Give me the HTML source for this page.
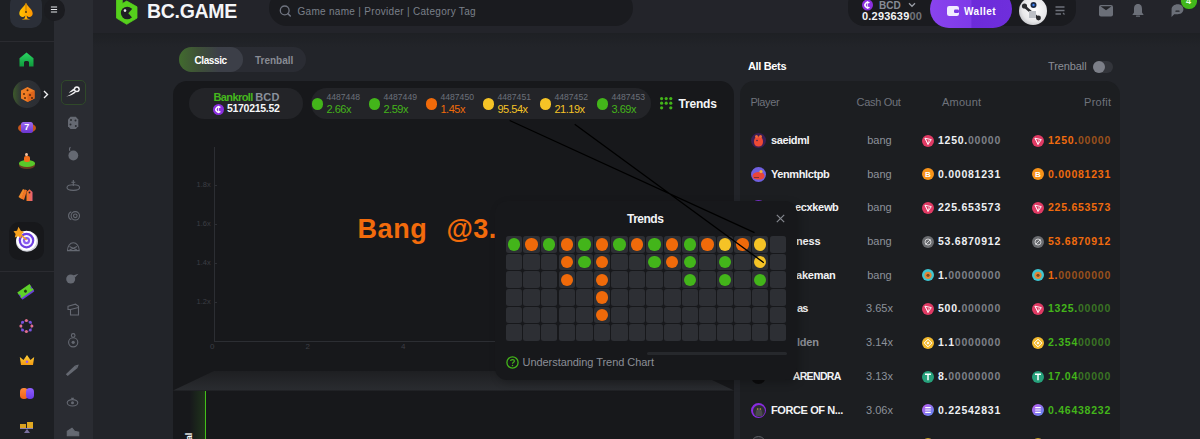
<!DOCTYPE html>
<html><head><meta charset="utf-8">
<style>
*{box-sizing:border-box;margin:0;padding:0}
html,body{width:1200px;height:439px;overflow:hidden;background:#222429;font-family:"Liberation Sans",sans-serif;color:#fff}
.a{position:absolute;white-space:nowrap}
.b{font-weight:bold}
#sb1{left:0;top:0;width:54px;height:439px;background:#1d1f23}
#sb2{left:54px;top:0;width:39px;height:439px;background:#2a2c32}
#hdr{left:93px;top:0;width:1107px;height:33px;background:#23242a}
#hdrline{left:93px;top:33px;width:1107px;height:14px;background:linear-gradient(180deg,#1e2024 0%,rgba(34,36,41,0) 100%)}
svg.a{overflow:visible}
.cell{position:absolute;width:16.5px;height:16.5px;border-radius:2.5px;background:#2d2f34}
.dot{position:absolute;width:12.4px;height:12.4px;border-radius:50%;left:2.05px;top:2.05px}
.G{background:#43b51a}.O{background:#f06a0a}.Y{background:#f5c326}
.row{position:absolute;left:740px;width:380px;height:33px}
.nm{position:absolute;left:31px;top:11px;font-size:11px;font-weight:bold;line-height:11px;letter-spacing:-0.4px;color:#f2f3f5}
.co{position:absolute;left:112px;width:55px;text-align:center;top:11px;font-size:11px;line-height:11px;color:#8d929b}
.am{position:absolute;left:198px;top:11px;font-size:10.5px;line-height:11px;font-weight:bold;letter-spacing:0.75px;color:#eef0f3}
.pf{position:absolute;left:308px;top:11px;font-size:10.5px;line-height:11px;font-weight:bold;letter-spacing:0.75px}
.dim{color:#7e8188}
.coin{position:absolute;width:12px;height:12px;border-radius:50%;top:9px}
</style></head><body>
<div id="sb1" class="a"></div>
<div id="sb2" class="a"></div>
<div id="hdr" class="a"></div>
<div id="hdrline" class="a"></div>

<!-- sidebar 1 top -->
<div class="a" style="left:10px;top:-6px;width:32.2px;height:33.7px;border-radius:10px;background:#2b2f38"></div>
<svg class="a" style="left:18px;top:2px" width="16" height="19" viewBox="0 0 16 19">
 <defs><linearGradient id="sp" x1="0" x2="1"><stop offset="0" stop-color="#ffc400"/><stop offset="1" stop-color="#ff9500"/></linearGradient></defs>
 <path d="M8 0.8 C6.5 4.5 1.3 7.5 1.3 11.5 C1.3 14.2 3.6 15.4 5.4 14.9 C6.3 14.6 7 14.1 7.4 13.5 L6.6 16.6 L3.6 17.6 L12.4 17.6 L9.4 16.6 L8.6 13.5 C9 14.1 9.7 14.6 10.6 14.9 C12.4 15.4 14.7 14.2 14.7 11.5 C14.7 7.5 9.5 4.5 8 0.8 Z" fill="url(#sp)"/>
 <path d="M8 1.5 V9" stroke="#b06d00" stroke-width="0.9"/><circle cx="8" cy="10" r="0.9" fill="#3b2c10"/>
</svg>
<div class="a" style="left:43.5px;top:-0.7px;width:21.2px;height:21.2px;border-radius:50%;background:#1b1c20"></div>
<svg class="a" style="left:50px;top:6px" width="8" height="7" viewBox="0 0 8 7"><path d="M0.9 1 H7.1 M0.9 3.5 H7.1 M0.9 6 H7.1" stroke="#e6e7ea" stroke-width="1.2"/></svg>
<div class="a" style="left:0;top:41px;width:54px;height:1px;background:#2a2b30"></div>
<div class="a" style="left:0;top:271px;width:54px;height:1px;background:#2a2b30"></div>

<!-- home -->
<svg class="a" style="left:19px;top:52px" width="15" height="15" viewBox="0 0 15 15">
 <defs><linearGradient id="hm" x1="0" y1="0" x2="0" y2="1"><stop offset="0" stop-color="#2bd463"/><stop offset="1" stop-color="#0f9a3c"/></linearGradient></defs>
 <path d="M7.5 0.5 L14.5 6.2 L14.5 14.5 L10 14.5 L10 10.2 C10 8.7 5 8.7 5 10.2 L5 14.5 L0.5 14.5 L0.5 6.2 Z" fill="url(#hm)"/>
</svg>
<!-- dice circle -->
<div class="a" style="left:12.5px;top:79.8px;width:28.5px;height:28.5px;border-radius:50%;background:linear-gradient(90deg,#3d5a2a 0%,#2e3236 30%,#2b2d33 100%)"></div>
<svg class="a" style="left:18.5px;top:86px" width="17" height="17" viewBox="0 0 17 17">
 <path d="M2 4.5 L8.5 1 L15.5 4.5 L15.5 12.5 L8.5 16 L2 12.5 Z" fill="#f07d24"/>
 <path d="M8.5 8 L15.5 4.5 L15.5 12.5 L8.5 16 Z" fill="#e0641a"/>
 <circle cx="5" cy="8" r="1" fill="#5a2a0a"/><circle cx="6" cy="12" r="1" fill="#5a2a0a"/><circle cx="11" cy="9" r="1" fill="#5a2a0a"/><circle cx="13" cy="12" r="1" fill="#5a2a0a"/><circle cx="8.5" cy="4.3" r="1" fill="#5a2a0a"/>
</svg>
<svg class="a" style="left:43px;top:90px" width="6" height="9" viewBox="0 0 6 9"><path d="M1 1 L4.5 4.5 L1 8" fill="none" stroke="#f0f0f2" stroke-width="1.4"/></svg>
<!-- slot 7 -->
<div class="a" style="left:18px;top:122.5px;width:18.2px;height:10px;border-radius:50%;background:#c4561c"></div>
<div class="a" style="left:21.4px;top:121.8px;width:11.4px;height:11px;border-radius:2.5px;background:linear-gradient(180deg,#9d6cf0,#6b34d0)"></div>
<div class="a b" style="left:24.3px;top:123px;font-size:9px;line-height:9px;color:#fff">7</div>
<!-- figure -->
<div class="a" style="left:18.7px;top:161px;width:16px;height:7.5px;border-radius:50%;background:#6b3a20"></div>
<div class="a" style="left:18.7px;top:160px;width:16px;height:6.5px;border-radius:50%;background:#58c72a"></div>
<div class="a" style="left:23.5px;top:156px;width:6px;height:6px;border-radius:2px;background:#f26d1a"></div>
<div class="a" style="left:25px;top:152.5px;width:3px;height:3.5px;border-radius:50%;background:#f0c0a0"></div>
<!-- tags -->
<svg class="a" style="left:18px;top:188px" width="17" height="14" viewBox="0 0 17 14">
 <defs><linearGradient id="tgs" x1="0" x2="1"><stop offset="0" stop-color="#f07a1a"/><stop offset="1" stop-color="#e9607a"/></linearGradient></defs>
 <path d="M0.5 9 L5 1 L7 2 L3.5 11 Z" fill="#f08a2a"/>
 <path d="M3 10.5 L7 1.5 L9 2.2 L6 12 Z" fill="#f07424"/>
 <path d="M8.5 4 L11.5 1.2 L14.5 4 L14.5 13 L8.5 13 Z" fill="url(#tgs)"/>
 <circle cx="11.5" cy="4.5" r="0.9" fill="#1d1e22"/>
</svg>
<!-- target -->
<div class="a" style="left:8.7px;top:221.8px;width:35.7px;height:37.9px;border-radius:10px;background:#17181b"></div>
<svg class="a" style="left:13px;top:226px" width="28" height="28" viewBox="0 0 28 28">
 <ellipse cx="14" cy="15.4" rx="11" ry="10.3" fill="#cfd0d8"/>
 <ellipse cx="13.5" cy="14.6" rx="10.2" ry="9.8" fill="#ffffff"/>
 <circle cx="13.5" cy="14.6" r="7.8" fill="#6c3ee0"/>
 <circle cx="13.5" cy="14.6" r="5.6" fill="#f4f0ff"/>
 <circle cx="13.5" cy="14.6" r="3.6" fill="#8a5cf0"/>
 <circle cx="13.5" cy="14.6" r="1.4" fill="#fff"/>
 <path d="M7 8 L13.5 14" stroke="#f59a1a" stroke-width="1.5"/>
 <path d="M5.5 0.7 L7.8 4.8 L11 6 L8 8.8 L8.3 12.3 L5.2 10.2 L1.8 11.5 L2.6 8 L0.5 5.2 L4 4.8 Z" fill="#f7a21e"/>
</svg>
<!-- ticket -->
<svg class="a" style="left:16px;top:282px" width="20" height="20" viewBox="0 0 20 20">
 <g transform="rotate(-35 10 10)">
  <rect x="2.5" y="7.3" width="15" height="7" rx="1" fill="#6a3fd8"/>
  <path d="M2.5 5.5 H17.5 V8.2 A1.3 1.3 0 0 0 17.5 10.8 V12.5 H2.5 V10.8 A1.3 1.3 0 0 0 2.5 8.2 Z" fill="#5ed12a"/>
  <circle cx="10" cy="9" r="1.5" fill="#1f3d12"/>
 </g>
</svg>
<!-- ring of dots -->
<svg class="a" style="left:18px;top:318px" width="17" height="17" viewBox="0 0 17 17">
 <circle cx="8.4" cy="8.1" r="5.5" fill="none" stroke="#5b3aa8" stroke-width="0.8"/>
 <circle cx="8.4" cy="2.6" r="1.5" fill="#e3708c"/><circle cx="12.3" cy="4.2" r="1.5" fill="#7a52e0"/>
 <circle cx="13.9" cy="8.1" r="1.5" fill="#e3708c"/><circle cx="12.3" cy="12" r="1.5" fill="#7a52e0"/>
 <circle cx="8.4" cy="13.6" r="1.5" fill="#e3708c"/><circle cx="4.5" cy="12" r="1.5" fill="#7a52e0"/>
 <circle cx="2.9" cy="8.1" r="1.5" fill="#e3708c"/><circle cx="4.5" cy="4.2" r="1.5" fill="#7a52e0"/>
</svg>
<!-- crown -->
<svg class="a" style="left:19px;top:354px" width="16" height="12" viewBox="0 0 16 12">
 <defs><linearGradient id="cr" x1="0" y1="0" x2="0" y2="1"><stop offset="0" stop-color="#ffd23a"/><stop offset="1" stop-color="#f39a12"/></linearGradient></defs>
 <path d="M0.8 3 L4.5 6 L8 1 L11.5 6 L15.2 3 L14 11 L2 11 Z" fill="url(#cr)"/>
 <circle cx="8" cy="7.8" r="1.3" fill="#9b5cf0"/>
</svg>
<!-- faces -->
<div class="a" style="left:20px;top:387.8px;width:7.5px;height:11.2px;border-radius:3.8px;background:linear-gradient(180deg,#ff8a3a,#f0601a)"></div>
<div class="a" style="left:26.3px;top:387.8px;width:7.3px;height:11.2px;border-radius:3.8px;background:linear-gradient(180deg,#9060ff,#6b3ae8)"></div>
<!-- gold bars -->
<div class="a" style="left:20px;top:423.8px;width:5.8px;height:4px;background:#d9a020"></div>
<div class="a" style="left:27px;top:422.4px;width:5.8px;height:5.4px;background:#e0a822"></div>
<div class="a" style="left:20px;top:428px;width:13px;height:1px;background:#8a80b0"></div>
<svg class="a" style="left:23.5px;top:429px" width="6" height="4" viewBox="0 0 6 4"><path d="M3 0 L6 4 L0 4 Z" fill="#7a70a0"/></svg>

<!-- sidebar 2 icons -->
<div class="a" style="left:61px;top:79.6px;width:25.4px;height:25px;border-radius:5px;border:1px solid #30492a;background:#27292e"></div>
<svg class="a" style="left:65px;top:84px" width="17" height="16" viewBox="0 0 17 16">
 <circle cx="11.8" cy="5.2" r="3" fill="#f2f2f4"/>
 <circle cx="11.8" cy="5.2" r="1.5" fill="#26282d"/>
 <path d="M9.6 7.4 C7 9.5 3.5 11.5 1.2 12.6 C4.5 12.3 8 11 10.8 8.6 Z" fill="#f2f2f4"/>
 <path d="M9 4.6 C6.8 6 5 7.5 3.8 9 C6 8 8 7 9.3 6.4 Z" fill="#f2f2f4"/>
</svg>
<g></g>
<svg class="a" style="left:62px;top:112px" width="22" height="330" viewBox="62 112 22 330">
 <g fill="#656972">
  <path d="M70.5 116.8 L75.8 116.8 L78.3 119.5 L78.3 126.2 L75.8 128.9 L70.5 128.9 L68 126.2 L68 119.5 Z"/>
  <circle cx="73.3" cy="155.5" r="4.9"/>
  <circle cx="70.7" cy="279" r="4.5"/>
  <path d="M73 275.5 L78.5 273.7 L75 277.5 Z"/>
  <path d="M67.7 376 L65.8 374.2 L75 365.5 L77.5 368 Z"/>
  <path d="M75 365.5 L78.8 364.6 L77.5 368 Z"/>
 </g>
 <g fill="#2a2c31">
  <circle cx="71" cy="120" r="1"/><circle cx="75.5" cy="120.5" r="1"/><circle cx="70.5" cy="124.5" r="1"/><circle cx="75.8" cy="126" r="1"/>
 </g>
 <g fill="none" stroke="#656972" stroke-width="1.1">
  <path d="M70 150.8 C69 149.5 69.5 148 70.5 147.3"/>
  <ellipse cx="73.3" cy="187.6" rx="6.3" ry="2.8"/>
  <path d="M73.3 180 V186 M71.3 182.3 H75.3"/>
  <path d="M71.3 211.8 A4.3 4.3 0 0 0 71.3 219.8"/>
  <circle cx="75.3" cy="215.8" r="4.2"/><circle cx="75.3" cy="215.8" r="1.8"/>
  <path d="M67.5 250.6 C67.5 246 70 242.8 73.3 242.8 C76.6 242.8 79.2 246 79.2 250.6 Z"/>
  <path d="M69.5 246.5 L77 250 M77 246.5 L69.5 250"/>
  <path d="M68 306.3 L75.5 304.2 L78.5 306.3 L78.5 315 L70.5 315 L70.5 309.5 L68 309.5 Z"/>
  <path d="M70.5 309.5 L78.5 307.5"/>
  <circle cx="73.2" cy="342.3" r="4.6"/>
  <circle cx="73.2" cy="335.4" r="1.8"/>
  <ellipse cx="72.5" cy="402.8" rx="5.3" ry="3.2"/><path d="M72.5 399.6 V397.8 M71 398.2 L74 398.2"/>
  <path d="M67.3 435.8 L67.3 431.3 L72 428.2 L74.6 431.3 L78.7 432.3 L78.7 435.8 Z" fill="#656972"/>
 </g>
 <g fill="#656972">
  <circle cx="73.2" cy="342.3" r="1.6"/>
  <circle cx="72.5" cy="402.8" r="1.5"/>
 </g>
</svg>
<!-- HEADER -->
<svg class="a" style="left:0;top:0" width="1" height="1"></svg>
<svg class="a" style="left:116px;top:0" width="22" height="25" viewBox="116 0 22 25">
  <path d="M116.5 -1 L122.3 -1 L122.3 3.6 L126.7 1 L137 6.8 L137 18.1 L126.7 24.3 L116.5 18.1 Z" fill="#55d11c" stroke="#55d11c" stroke-width="0.8" stroke-linejoin="round"/>
  <circle cx="127.2" cy="13" r="6.3" fill="#1f2024"/><path d="M128.3 13.2 L134.5 6.2 L134.5 20.2 Z" fill="#55d11c"/>
  <circle cx="125" cy="10.6" r="1.3" fill="#e8e8e8"/>
</svg>
<div class="a b" style="left:147px;top:1.8px;font-size:19.5px;line-height:19.5px;letter-spacing:-0.3px;color:#f4f5f7">BC.GAME</div>

<div class="a" style="left:268.5px;top:-10px;width:364px;height:36px;border-radius:18px;background:#1a1b1f"></div>
<svg class="a" style="left:278px;top:4px" width="16" height="16" viewBox="0 0 16 16">
  <circle cx="6.7" cy="6.4" r="4.4" fill="none" stroke="#6f7480" stroke-width="1.3"/>
  <path d="M9.9 9.6 L12.3 12" stroke="#6f7480" stroke-width="1.5" stroke-linecap="round"/>
</svg>
<div class="a" style="left:297.5px;top:7.2px;font-size:10px;line-height:10px;letter-spacing:0.3px;color:#7b808a">Game name | Provider | Category Tag</div>

<!-- right header group -->
<div class="a" style="left:848px;top:-12px;width:228px;height:38px;border-radius:16px;background:#1a1b1f"></div>
<svg class="a" style="left:861.5px;top:-1.5px" width="11" height="12" viewBox="0 0 11 12"><circle cx="5.5" cy="6" r="5.5" fill="#8b2fe0"/><path d="M7.4 3.9 A2.7 2.7 0 1 0 7.4 8.1" fill="none" stroke="#fff" stroke-width="1.5"/><path d="M5.4 2 V10" stroke="#fff" stroke-width="0.8"/></svg>
<div class="a b" style="left:879px;top:1px;font-size:10px;line-height:10px;color:#878c96">BCD</div>
<svg class="a" style="left:908px;top:2px" width="8" height="6" viewBox="0 0 8 6"><path d="M1 1.3 L4 4.3 L7 1.3" fill="none" stroke="#9a9ea6" stroke-width="1.3"/></svg>
<div class="a b" style="left:862px;top:11px;font-size:11px;line-height:11px;letter-spacing:0.2px;color:#f3f4f6">0.293639<span style="color:#70737a">00</span></div>
<div class="a" style="left:930px;top:-10px;width:82px;height:37.5px;border-radius:19px;background:linear-gradient(90deg,#8a43ee 0%,#7e3ae8 50%,#6c2bd9 51%,#6f2edc 100%)"></div>
<svg class="a" style="left:946px;top:5px" width="14" height="12" viewBox="0 0 14 12">
  <rect x="1" y="1" width="12" height="10" rx="2.2" fill="#f1ecff"/>
  <rect x="8" y="4.5" width="5" height="3.5" rx="1.2" fill="#7c39e6"/>
</svg>
<div class="a b" style="left:964px;top:6.5px;font-size:10px;line-height:10px;letter-spacing:0.5px;color:#fff">Wallet</div>
<div class="a" style="left:1019px;top:-3px;width:28px;height:28px;border-radius:50%;background:radial-gradient(circle at 55% 45%,#ffffff 0%,#e8e8ea 55%,#9da0a6 100%)"></div>
<svg class="a" style="left:1019px;top:-3px" width="28" height="28" viewBox="0 0 28 28">
  <circle cx="14.5" cy="8" r="3" fill="#1d2a44"/><circle cx="14.5" cy="8" r="1.2" fill="#3b82f6"/>
  <path d="M5 9 L19 21" stroke="#2a2b2e" stroke-width="2.6"/>
  <circle cx="5.5" cy="9" r="2.6" fill="#2a2b2e"/><circle cx="19.5" cy="21" r="2.4" fill="#2a2b2e"/>
  <rect x="10" y="14" width="7" height="7" fill="#bcbfc5"/>
</svg>
<svg class="a" style="left:1054px;top:5px" width="12" height="12" viewBox="0 0 12 12">
  <path d="M1.5 2 H10.5 M1.5 5.5 H10.5 M1.5 9 H7" stroke="#6e727b" stroke-width="1.4"/>
  <path d="M9 8 L10.5 9.5" stroke="#6e727b" stroke-width="1.2"/>
</svg>
<svg class="a" style="left:1098px;top:4px" width="16" height="14" viewBox="0 0 16 14">
  <rect x="1" y="1" width="14" height="11.5" rx="2" fill="#6b6f78"/>
  <path d="M2.5 2.2 L8 6.2 L13.5 2.2" fill="#212226"/>
</svg>
<svg class="a" style="left:1131px;top:3px" width="14" height="15" viewBox="0 0 14 15">
  <path d="M7 1 C3.8 1 3 3.6 3 6 L3 9.5 L1.3 12 L12.7 12 L11 9.5 L11 6 C11 3.6 10.2 1 7 1 Z" fill="#6b6f78"/>
  <path d="M5.5 13.2 H8.5" stroke="#6b6f78" stroke-width="1.2" stroke-linecap="round"/>
</svg>
<svg class="a" style="left:1170px;top:3px" width="15" height="15" viewBox="0 0 15 15">
  <path d="M7.8 1.2 C11.2 1.2 13.4 3.4 13.4 6.3 C13.4 9.3 11.2 11.2 7.8 11.2 L4.2 11.2 L1.5 13.9 L1.6 6.3 C1.6 3.4 4.2 1.2 7.8 1.2 Z" fill="#6b6f78"/>
  <path d="M6 8.2 H9" stroke="#212226" stroke-width="1.3" stroke-linecap="round"/>
</svg>
<div class="a" style="left:1181px;top:-7px;width:15.5px;height:15.5px;border-radius:50%;background:#42b71b"></div>
<div class="a b" style="left:1186px;top:-3px;font-size:9px;line-height:9px;color:#e8ffe0">4</div>

<!-- main tabs -->
<div class="a" style="left:179px;top:47px;width:127px;height:25px;border-radius:13px;background:#2a2c33"></div>
<div class="a" style="left:179px;top:47px;width:64px;height:25px;border-radius:13px;background:linear-gradient(90deg,#416b2e 0%,#3e5137 30%,#3c3f48 62%)"></div>
<div class="a b" style="left:194.5px;top:55.5px;font-size:10px;line-height:10px;letter-spacing:-0.4px;color:#fff">Classic</div>
<div class="a b" style="left:255px;top:55.5px;font-size:10px;line-height:10px;letter-spacing:0px;color:#888b94">Trenball</div>

<!-- main panel -->
<div class="a" style="left:173px;top:81px;width:561px;height:370px;border-radius:14px;background:#17181b"></div>


<!-- bankroll pill -->
<div class="a" style="left:189px;top:88px;width:114px;height:31px;border-radius:15.5px;background:#232428"></div>
<div class="a b" style="left:213.5px;top:91.5px;font-size:11px;line-height:11px;letter-spacing:-0.6px;color:#45b81d">Bankroll <span style="color:#8a919c;letter-spacing:0.2px">BCD</span></div>
<div class="a" style="left:213px;top:103.7px;width:11px;height:11px;border-radius:50%;background:#8b2fe0"></div>
<svg class="a" style="left:213px;top:103.7px" width="11" height="11" viewBox="0 0 11 11"><path d="M7.3 3.6 A2.6 2.6 0 1 0 7.3 7.4" fill="none" stroke="#fff" stroke-width="1.5"/><path d="M5.5 1.8 V9.2" stroke="#fff" stroke-width="0.8"/></svg>
<div class="a b" style="left:227px;top:103px;font-size:10.5px;line-height:11px;letter-spacing:-0.3px;color:#f6f7f9">5170215.52</div>

<!-- trends pill -->
<div class="a" style="left:310.5px;top:88px;width:340px;height:31px;border-radius:15.5px;background:#232428"></div>
<div class="a" style="left:311.6px;top:97.9px;width:11.8px;height:11.8px;border-radius:50%;background:#43b51a"></div>
<div class="a" style="left:326.5px;top:93px;font-size:8.6px;line-height:9px;letter-spacing:0px;color:#6c717b">4487448</div>
<div class="a" style="left:326.5px;top:103.5px;font-size:11px;line-height:11px;letter-spacing:-0.5px;color:#43b51a">2.66x</div>
<div class="a" style="left:368.6px;top:97.9px;width:11.8px;height:11.8px;border-radius:50%;background:#43b51a"></div>
<div class="a" style="left:383.5px;top:93px;font-size:8.6px;line-height:9px;letter-spacing:0px;color:#6c717b">4487449</div>
<div class="a" style="left:383.5px;top:103.5px;font-size:11px;line-height:11px;letter-spacing:-0.5px;color:#43b51a">2.59x</div>
<div class="a" style="left:425.6px;top:97.9px;width:11.8px;height:11.8px;border-radius:50%;background:#f06a0a"></div>
<div class="a" style="left:440.5px;top:93px;font-size:8.6px;line-height:9px;letter-spacing:0px;color:#6c717b">4487450</div>
<div class="a" style="left:440.5px;top:103.5px;font-size:11px;line-height:11px;letter-spacing:-0.5px;color:#f06a0a">1.45x</div>
<div class="a" style="left:482.6px;top:97.9px;width:11.8px;height:11.8px;border-radius:50%;background:#f5c326"></div>
<div class="a" style="left:497.5px;top:93px;font-size:8.6px;line-height:9px;letter-spacing:0px;color:#6c717b">4487451</div>
<div class="a" style="left:497.5px;top:103.5px;font-size:11px;line-height:11px;letter-spacing:-0.5px;color:#f5c326">95.54x</div>
<div class="a" style="left:539.6px;top:97.9px;width:11.8px;height:11.8px;border-radius:50%;background:#f5c326"></div>
<div class="a" style="left:554.5px;top:93px;font-size:8.6px;line-height:9px;letter-spacing:0px;color:#6c717b">4487452</div>
<div class="a" style="left:554.5px;top:103.5px;font-size:11px;line-height:11px;letter-spacing:-0.5px;color:#f5c326">21.19x</div>
<div class="a" style="left:596.6px;top:97.9px;width:11.8px;height:11.8px;border-radius:50%;background:#43b51a"></div>
<div class="a" style="left:611.5px;top:93px;font-size:8.6px;line-height:9px;letter-spacing:0px;color:#6c717b">4487453</div>
<div class="a" style="left:611.5px;top:103.5px;font-size:11px;line-height:11px;letter-spacing:-0.5px;color:#43b51a">3.69x</div>

<svg class="a" style="left:660px;top:97px" width="13" height="13" viewBox="0 0 13 13">
 <g fill="#43b51a">
 <circle cx="1.6" cy="1.6" r="1.6"/><circle cx="6.2" cy="1.6" r="1.6"/><circle cx="10.8" cy="1.6" r="1.6"/>
 <circle cx="1.6" cy="6.2" r="1.6"/><circle cx="6.2" cy="6.2" r="1.6"/><circle cx="10.8" cy="6.2" r="1.6"/>
 <circle cx="1.6" cy="10.8" r="1.6"/><circle cx="10.8" cy="10.8" r="1.6"/>
 </g></svg>
<div class="a b" style="left:678.5px;top:98.2px;font-size:12px;line-height:12px;letter-spacing:-0.2px;color:#f4f5f7">Trends</div>

<!-- chart -->
<div class="a" style="left:214px;top:147px;width:1px;height:194px;background:#2c2e33"></div>
<div class="a" style="left:214px;top:340.5px;width:520px;height:1px;background:#2c2e33"></div>
<div class="a" style="left:196.5px;top:181px;font-size:7.5px;line-height:8px;color:#3c3e44">1.8x</div>
<div class="a" style="left:196.5px;top:220px;font-size:7.5px;line-height:8px;color:#3c3e44">1.6x</div>
<div class="a" style="left:196.5px;top:259px;font-size:7.5px;line-height:8px;color:#3c3e44">1.4x</div>
<div class="a" style="left:196.5px;top:298px;font-size:7.5px;line-height:8px;color:#3c3e44">1.2x</div>
<div class="a" style="left:215px;top:185px;width:2px;height:1px;background:#2c2e33"></div>
<div class="a" style="left:215px;top:224px;width:2px;height:1px;background:#2c2e33"></div>
<div class="a" style="left:215px;top:263px;width:2px;height:1px;background:#2c2e33"></div>
<div class="a" style="left:215px;top:302px;width:2px;height:1px;background:#2c2e33"></div>
<div class="a" style="left:210px;top:343px;font-size:8px;line-height:8px;color:#3c3e44">0</div>
<div class="a" style="left:305.5px;top:343px;font-size:8px;line-height:8px;color:#3c3e44">2</div>
<div class="a" style="left:401px;top:343px;font-size:8px;line-height:8px;color:#3c3e44">4</div>
<div class="a b" style="left:357.5px;top:215.5px;font-size:27px;line-height:27px;letter-spacing:0.6px;color:#f26b0c">Bang</div><div class="a b" style="left:446.5px;top:215.5px;font-size:27px;line-height:27px;letter-spacing:0.4px;color:#f26b0c">@3.</div>

<!-- table 3D -->
<svg class="a" style="left:173px;top:371px" width="561" height="20" viewBox="0 0 561 20">
 <defs><linearGradient id="tg" x1="0" y1="0" x2="0" y2="1"><stop offset="0" stop-color="#1e1f22"/><stop offset="1" stop-color="#2a2c30"/></linearGradient></defs>
 <path d="M41 0 L520 0 L561 19.5 L0 19.5 Z" fill="url(#tg)"/>
</svg>
<div class="a" style="left:190px;top:390.5px;width:15px;height:49px;background:linear-gradient(90deg,rgba(67,181,26,0) 0%,rgba(67,181,26,0.18) 100%)"></div>
<div class="a" style="left:204.8px;top:390.5px;width:1.6px;height:49px;background:#43c01a"></div>
<div class="a b" style="left:186px;top:431.5px;font-size:9px;line-height:9px;transform:rotate(-90deg);transform-origin:50% 50%;color:#fff">al</div>

<!-- all bets panel -->
<div class="a b" style="left:748px;top:60.5px;font-size:11px;line-height:11px;letter-spacing:-0.35px">All Bets</div>
<div class="a" style="left:1048px;top:60.5px;font-size:11px;line-height:11px;letter-spacing:-0.1px;color:#8a8d96">Trenball</div>
<div class="a" style="left:1093px;top:61px;width:20px;height:12px;border-radius:6px;background:#33353b"></div>
<div class="a" style="left:1093px;top:61px;width:12px;height:12px;border-radius:6px;background:#7c7f88"></div>
<div class="a" style="left:740px;top:81px;width:380px;height:370px;border-radius:14px;background:#1c1e21"></div>

<!-- table header -->
<div class="a" style="left:750.4px;top:96.5px;font-size:11px;line-height:11px;letter-spacing:-0.4px;color:#6f737c">Player</div>
<div class="a" style="left:856.5px;top:96.5px;font-size:11px;line-height:11px;letter-spacing:-0.3px;color:#6f737c">Cash Out</div>
<div class="a" style="left:942px;top:96.5px;font-size:11px;line-height:11px;letter-spacing:0.25px;color:#6f737c">Amount</div>
<div class="a" style="left:1084px;top:96.5px;font-size:11px;line-height:11px;letter-spacing:0.3px;color:#6f737c">Profit</div>
<div class="row" style="top:123.9px"><svg class="a" style="left:10.8px;top:9px" width="15" height="15" viewBox="0 0 15 15"><circle cx="7.5" cy="7.5" r="7.5" fill="#3b1f55"/><path d="M3 9 C3 5 5 3.5 7.5 3.5 C10 3.5 12 5 12 9 C12 12 10 13.5 7.5 13.5 C5 13.5 3 12 3 9 Z" fill="#ee4a35"/><circle cx="5.5" cy="3.5" r="1.5" fill="#f06a3a"/><circle cx="9.5" cy="3.5" r="1.5" fill="#f06a3a"/><circle cx="6" cy="7.5" r="0.8" fill="#3b1f55"/></svg><div class="nm">saeidml</div><div class="co">bang</div><svg class="a" style="left:182.2px;top:10.8px" width="12" height="12" viewBox="0 0 12 12"><circle cx="6" cy="6" r="6" fill="#e03a64"/><path d="M3 3.2 L9.3 4.6 L6 9.4 Z" fill="none" stroke="#fff" stroke-width="0.9" stroke-linejoin="round"/><path d="M3 3.2 L6 9.4 L7 5" fill="none" stroke="#fff" stroke-width="0.6"/></svg><div class="am">1250.<span class="dim">00000</span></div><svg class="a" style="left:292px;top:10.8px" width="12" height="12" viewBox="0 0 12 12"><circle cx="6" cy="6" r="6" fill="#e03a64"/><path d="M3 3.2 L9.3 4.6 L6 9.4 Z" fill="none" stroke="#fff" stroke-width="0.9" stroke-linejoin="round"/><path d="M3 3.2 L6 9.4 L7 5" fill="none" stroke="#fff" stroke-width="0.6"/></svg><div class="pf" style="color:#f06b0e">1250.<span style="color:#9a511c">00000</span></div></div>
<div class="row" style="top:157.6px"><svg class="a" style="left:10.8px;top:9px" width="15" height="15" viewBox="0 0 15 15"><circle cx="7.5" cy="7.5" r="7.5" fill="#7060e0"/><path d="M1.5 9 C2 6 4.5 5 7.5 5 C11 5 13.5 6.5 13.5 9 C13.5 11.5 11 12.5 7.5 12.5 C4 12.5 1.5 11.5 1.5 9 Z" fill="#e8453a"/><circle cx="10" cy="4.5" r="1.6" fill="#f5b03a"/><path d="M3 10.5 H8" stroke="#6b2a20" stroke-width="0.8"/></svg><div class="nm">Yenmhlctpb</div><div class="co">bang</div><svg class="a" style="left:182.2px;top:10.8px" width="12" height="12" viewBox="0 0 12 12"><circle cx="6" cy="6" r="6" fill="#f7931a"/><text x="6" y="8.8" font-size="8" font-weight="bold" text-anchor="middle" fill="#fff" font-family="Liberation Sans">B</text></svg><div class="am">0.00081231<span class="dim"></span></div><svg class="a" style="left:292px;top:10.8px" width="12" height="12" viewBox="0 0 12 12"><circle cx="6" cy="6" r="6" fill="#f7931a"/><text x="6" y="8.8" font-size="8" font-weight="bold" text-anchor="middle" fill="#fff" font-family="Liberation Sans">B</text></svg><div class="pf" style="color:#f06b0e">0.00081231<span style="color:#9a511c"></span></div></div>
<div class="row" style="top:191.3px"><div class="a" style="left:10.8px;top:9px;width:15px;height:15px;border-radius:50%;background:#7a2fd0"></div><div class="nm" style="left:55.0px;letter-spacing:-0.34px">ecxkewb</div><div class="co">bang</div><svg class="a" style="left:182.2px;top:10.8px" width="12" height="12" viewBox="0 0 12 12"><circle cx="6" cy="6" r="6" fill="#e03a64"/><path d="M3 3.2 L9.3 4.6 L6 9.4 Z" fill="none" stroke="#fff" stroke-width="0.9" stroke-linejoin="round"/><path d="M3 3.2 L6 9.4 L7 5" fill="none" stroke="#fff" stroke-width="0.6"/></svg><div class="am">225.653573<span class="dim"></span></div><svg class="a" style="left:292px;top:10.8px" width="12" height="12" viewBox="0 0 12 12"><circle cx="6" cy="6" r="6" fill="#e03a64"/><path d="M3 3.2 L9.3 4.6 L6 9.4 Z" fill="none" stroke="#fff" stroke-width="0.9" stroke-linejoin="round"/><path d="M3 3.2 L6 9.4 L7 5" fill="none" stroke="#fff" stroke-width="0.6"/></svg><div class="pf" style="color:#f06b0e">225.653573<span style="color:#9a511c"></span></div></div>
<div class="row" style="top:225.0px"><div class="nm" style="left:56.0px;letter-spacing:-0.16px">ness</div><div class="co">bang</div><svg class="a" style="left:182.2px;top:10.8px" width="12" height="12" viewBox="0 0 12 12"><circle cx="6" cy="6" r="6" fill="#6a6c70"/><circle cx="6" cy="6" r="3" fill="none" stroke="#cfd0d2" stroke-width="1"/><path d="M3.5 8.5 L8.5 3.5" stroke="#cfd0d2" stroke-width="1"/></svg><div class="am">53.6870912<span class="dim"></span></div><svg class="a" style="left:292px;top:10.8px" width="12" height="12" viewBox="0 0 12 12"><circle cx="6" cy="6" r="6" fill="#6a6c70"/><circle cx="6" cy="6" r="3" fill="none" stroke="#cfd0d2" stroke-width="1"/><path d="M3.5 8.5 L8.5 3.5" stroke="#cfd0d2" stroke-width="1"/></svg><div class="pf" style="color:#f06b0e">53.6870912<span style="color:#9a511c"></span></div></div>
<div class="row" style="top:258.7px"><div class="nm" style="left:56.0px;letter-spacing:-0.23px">akeman</div><div class="co">bang</div><svg class="a" style="left:182.2px;top:10.8px" width="12" height="12" viewBox="0 0 12 12"><circle cx="6" cy="6" r="6" fill="#3ec6d2"/><circle cx="6" cy="6.3" r="3.6" fill="#e3893a"/><circle cx="6" cy="6.3" r="1.6" fill="#7a4a20"/></svg><div class="am">1.<span class="dim">00000000</span></div><svg class="a" style="left:292px;top:10.8px" width="12" height="12" viewBox="0 0 12 12"><circle cx="6" cy="6" r="6" fill="#3ec6d2"/><circle cx="6" cy="6.3" r="3.6" fill="#e3893a"/><circle cx="6" cy="6.3" r="1.6" fill="#7a4a20"/></svg><div class="pf" style="color:#f06b0e">1.<span style="color:#9a511c">00000000</span></div></div>
<div class="row" style="top:292.4px"><div class="nm" style="left:57.0px;letter-spacing:-0.9px">as</div><div class="co">3.65x</div><svg class="a" style="left:182.2px;top:10.8px" width="12" height="12" viewBox="0 0 12 12"><circle cx="6" cy="6" r="6" fill="#e03a64"/><path d="M3 3.2 L9.3 4.6 L6 9.4 Z" fill="none" stroke="#fff" stroke-width="0.9" stroke-linejoin="round"/><path d="M3 3.2 L6 9.4 L7 5" fill="none" stroke="#fff" stroke-width="0.6"/></svg><div class="am">500.<span class="dim">000000</span></div><svg class="a" style="left:292px;top:10.8px" width="12" height="12" viewBox="0 0 12 12"><circle cx="6" cy="6" r="6" fill="#e03a64"/><path d="M3 3.2 L9.3 4.6 L6 9.4 Z" fill="none" stroke="#fff" stroke-width="0.9" stroke-linejoin="round"/><path d="M3 3.2 L6 9.4 L7 5" fill="none" stroke="#fff" stroke-width="0.6"/></svg><div class="pf" style="color:#43b51a">1325.<span style="color:#3a7424">00000</span></div></div>
<div class="row" style="top:326.1px"><div class="nm" style="left:57.0px;letter-spacing:-0.24px;color:#8b8e96">lden</div><div class="co">3.14x</div><svg class="a" style="left:182.2px;top:10.8px" width="12" height="12" viewBox="0 0 12 12"><circle cx="6" cy="6" r="6" fill="#f3ba2f"/><path d="M6 2.2 L9.8 6 L6 9.8 L2.2 6 Z" fill="none" stroke="#fff" stroke-width="1"/><path d="M6 4.6 L7.4 6 L6 7.4 L4.6 6 Z" fill="#fff"/></svg><div class="am">1.1<span class="dim">0000000</span></div><svg class="a" style="left:292px;top:10.8px" width="12" height="12" viewBox="0 0 12 12"><circle cx="6" cy="6" r="6" fill="#f3ba2f"/><path d="M6 2.2 L9.8 6 L6 9.8 L2.2 6 Z" fill="none" stroke="#fff" stroke-width="1"/><path d="M6 4.6 L7.4 6 L6 7.4 L4.6 6 Z" fill="#fff"/></svg><div class="pf" style="color:#43b51a">2.354<span style="color:#3a7424">00000</span></div></div>
<div class="row" style="top:359.8px"><div class="a" style="left:10.8px;top:9px;width:15px;height:15px;border-radius:50%;background:#0b0b0c"></div><div class="nm" style="left:52.7px;letter-spacing:-0.63px;font-size:10.5px">ARENDRA</div><div class="co">3.13x</div><svg class="a" style="left:182.2px;top:10.8px" width="12" height="12" viewBox="0 0 12 12"><circle cx="6" cy="6" r="6" fill="#26a17b"/><path d="M3 3.3 H9 M6 3.3 V9.3" stroke="#fff" stroke-width="1.5"/></svg><div class="am">8.<span class="dim">00000000</span></div><svg class="a" style="left:292px;top:10.8px" width="12" height="12" viewBox="0 0 12 12"><circle cx="6" cy="6" r="6" fill="#26a17b"/><path d="M3 3.3 H9 M6 3.3 V9.3" stroke="#fff" stroke-width="1.5"/></svg><div class="pf" style="color:#43b51a">17.04<span style="color:#3a7424">00000</span></div></div>
<div class="row" style="top:393.5px"><svg class="a" style="left:10.8px;top:9px" width="15" height="15" viewBox="0 0 15 15"><circle cx="7.5" cy="7.5" r="7.5" fill="#8a2be2"/><circle cx="8" cy="8" r="6" fill="#2e2f33"/><path d="M4.5 13 C4.5 9 5.5 5 8 5 C10.5 5 11.5 9 11.5 13 Z" fill="#4a4a4e"/><circle cx="6.5" cy="6" r="0.7" fill="#c9a030"/><circle cx="9.5" cy="6" r="0.7" fill="#c9a030"/></svg><div class="nm">FORCE OF N...</div><div class="co">3.06x</div><svg class="a" style="left:182.2px;top:10.8px" width="12" height="12" viewBox="0 0 12 12"><defs><linearGradient id="sg" x1="0" y1="0" x2="1" y2="1"><stop offset="0" stop-color="#c35cf0"/><stop offset="1" stop-color="#5a8af0"/></linearGradient></defs><circle cx="6" cy="6" r="6" fill="url(#sg)"/><path d="M3.2 3.6 H8.8 M3.2 6 H8.8 M3.2 8.4 H8.8" stroke="#fff" stroke-width="1.1"/></svg><div class="am">0.22542831<span class="dim"></span></div><svg class="a" style="left:292px;top:10.8px" width="12" height="12" viewBox="0 0 12 12"><defs><linearGradient id="sg" x1="0" y1="0" x2="1" y2="1"><stop offset="0" stop-color="#c35cf0"/><stop offset="1" stop-color="#5a8af0"/></linearGradient></defs><circle cx="6" cy="6" r="6" fill="url(#sg)"/><path d="M3.2 3.6 H8.8 M3.2 6 H8.8 M3.2 8.4 H8.8" stroke="#fff" stroke-width="1.1"/></svg><div class="pf" style="color:#43b51a">0.46438232<span style="color:#3a7424"></span></div></div>
<div class="row" style="top:427.2px"><div class="a" style="left:10.8px;top:9px;width:15px;height:15px;border-radius:50%;border:1.5px solid #5d6065;background:#2a2b2f"></div><div class="nm">Player10</div><div class="co">2.90x</div><svg class="a" style="left:182.2px;top:10.8px" width="12" height="12" viewBox="0 0 12 12"><circle cx="6" cy="6" r="6" fill="#c9a227"/></svg><div class="am">0.00000000<span class="dim"></span></div><svg class="a" style="left:292px;top:10.8px" width="12" height="12" viewBox="0 0 12 12"><circle cx="6" cy="6" r="6" fill="#c9a227"/></svg><div class="pf" style="color:#43b51a">0.00000000<span style="color:#3a7424"></span></div></div>
<!-- popup -->
<div class="a" style="left:494.8px;top:201.4px;width:302px;height:178.6px;border-radius:12px;background:#17181b;box-shadow:3px 3px 8px rgba(0,0,0,0.22)"></div>
<div class="a b" style="left:627px;top:212.5px;font-size:12px;line-height:12px;letter-spacing:-0.5px;color:#f3f4f6">Trends</div>
<svg class="a" style="left:775.5px;top:214.3px" width="9" height="9" viewBox="0 0 9 9"><path d="M0.8 0.8 L8.2 8.2 M8.2 0.8 L0.8 8.2" stroke="#85888f" stroke-width="1.2"/></svg>
<div class="cell" style="left:505.80px;top:236.20px"><div class="dot G"></div></div><div class="cell" style="left:523.38px;top:236.20px"><div class="dot O"></div></div><div class="cell" style="left:540.96px;top:236.20px"><div class="dot G"></div></div><div class="cell" style="left:558.54px;top:236.20px"><div class="dot O"></div></div><div class="cell" style="left:576.12px;top:236.20px"><div class="dot G"></div></div><div class="cell" style="left:593.70px;top:236.20px"><div class="dot O"></div></div><div class="cell" style="left:611.28px;top:236.20px"><div class="dot G"></div></div><div class="cell" style="left:628.86px;top:236.20px"><div class="dot O"></div></div><div class="cell" style="left:646.44px;top:236.20px"><div class="dot G"></div></div><div class="cell" style="left:664.02px;top:236.20px"><div class="dot O"></div></div><div class="cell" style="left:681.60px;top:236.20px"><div class="dot G"></div></div><div class="cell" style="left:699.18px;top:236.20px"><div class="dot O"></div></div><div class="cell" style="left:716.76px;top:236.20px"><div class="dot Y"></div></div><div class="cell" style="left:734.34px;top:236.20px"><div class="dot O"></div></div><div class="cell" style="left:751.92px;top:236.20px"><div class="dot Y"></div></div><div class="cell" style="left:769.50px;top:236.20px"></div>
<div class="cell" style="left:505.80px;top:253.84px"></div><div class="cell" style="left:523.38px;top:253.84px"></div><div class="cell" style="left:540.96px;top:253.84px"></div><div class="cell" style="left:558.54px;top:253.84px"><div class="dot O"></div></div><div class="cell" style="left:576.12px;top:253.84px"><div class="dot G"></div></div><div class="cell" style="left:593.70px;top:253.84px"><div class="dot O"></div></div><div class="cell" style="left:611.28px;top:253.84px"></div><div class="cell" style="left:628.86px;top:253.84px"></div><div class="cell" style="left:646.44px;top:253.84px"><div class="dot G"></div></div><div class="cell" style="left:664.02px;top:253.84px"><div class="dot O"></div></div><div class="cell" style="left:681.60px;top:253.84px"><div class="dot G"></div></div><div class="cell" style="left:699.18px;top:253.84px"></div><div class="cell" style="left:716.76px;top:253.84px"><div class="dot G"></div></div><div class="cell" style="left:734.34px;top:253.84px"></div><div class="cell" style="left:751.92px;top:253.84px"><div class="dot Y"></div></div><div class="cell" style="left:769.50px;top:253.84px"></div>
<div class="cell" style="left:505.80px;top:271.48px"></div><div class="cell" style="left:523.38px;top:271.48px"></div><div class="cell" style="left:540.96px;top:271.48px"></div><div class="cell" style="left:558.54px;top:271.48px"><div class="dot O"></div></div><div class="cell" style="left:576.12px;top:271.48px"></div><div class="cell" style="left:593.70px;top:271.48px"><div class="dot O"></div></div><div class="cell" style="left:611.28px;top:271.48px"></div><div class="cell" style="left:628.86px;top:271.48px"></div><div class="cell" style="left:646.44px;top:271.48px"></div><div class="cell" style="left:664.02px;top:271.48px"></div><div class="cell" style="left:681.60px;top:271.48px"><div class="dot G"></div></div><div class="cell" style="left:699.18px;top:271.48px"></div><div class="cell" style="left:716.76px;top:271.48px"><div class="dot G"></div></div><div class="cell" style="left:734.34px;top:271.48px"></div><div class="cell" style="left:751.92px;top:271.48px"><div class="dot G"></div></div><div class="cell" style="left:769.50px;top:271.48px"></div>
<div class="cell" style="left:505.80px;top:289.12px"></div><div class="cell" style="left:523.38px;top:289.12px"></div><div class="cell" style="left:540.96px;top:289.12px"></div><div class="cell" style="left:558.54px;top:289.12px"></div><div class="cell" style="left:576.12px;top:289.12px"></div><div class="cell" style="left:593.70px;top:289.12px"><div class="dot O"></div></div><div class="cell" style="left:611.28px;top:289.12px"></div><div class="cell" style="left:628.86px;top:289.12px"></div><div class="cell" style="left:646.44px;top:289.12px"></div><div class="cell" style="left:664.02px;top:289.12px"></div><div class="cell" style="left:681.60px;top:289.12px"></div><div class="cell" style="left:699.18px;top:289.12px"></div><div class="cell" style="left:716.76px;top:289.12px"></div><div class="cell" style="left:734.34px;top:289.12px"></div><div class="cell" style="left:751.92px;top:289.12px"></div><div class="cell" style="left:769.50px;top:289.12px"></div>
<div class="cell" style="left:505.80px;top:306.76px"></div><div class="cell" style="left:523.38px;top:306.76px"></div><div class="cell" style="left:540.96px;top:306.76px"></div><div class="cell" style="left:558.54px;top:306.76px"></div><div class="cell" style="left:576.12px;top:306.76px"></div><div class="cell" style="left:593.70px;top:306.76px"><div class="dot O"></div></div><div class="cell" style="left:611.28px;top:306.76px"></div><div class="cell" style="left:628.86px;top:306.76px"></div><div class="cell" style="left:646.44px;top:306.76px"></div><div class="cell" style="left:664.02px;top:306.76px"></div><div class="cell" style="left:681.60px;top:306.76px"></div><div class="cell" style="left:699.18px;top:306.76px"></div><div class="cell" style="left:716.76px;top:306.76px"></div><div class="cell" style="left:734.34px;top:306.76px"></div><div class="cell" style="left:751.92px;top:306.76px"></div><div class="cell" style="left:769.50px;top:306.76px"></div>
<div class="cell" style="left:505.80px;top:324.40px"></div><div class="cell" style="left:523.38px;top:324.40px"></div><div class="cell" style="left:540.96px;top:324.40px"></div><div class="cell" style="left:558.54px;top:324.40px"></div><div class="cell" style="left:576.12px;top:324.40px"></div><div class="cell" style="left:593.70px;top:324.40px"></div><div class="cell" style="left:611.28px;top:324.40px"></div><div class="cell" style="left:628.86px;top:324.40px"></div><div class="cell" style="left:646.44px;top:324.40px"></div><div class="cell" style="left:664.02px;top:324.40px"></div><div class="cell" style="left:681.60px;top:324.40px"></div><div class="cell" style="left:699.18px;top:324.40px"></div><div class="cell" style="left:716.76px;top:324.40px"></div><div class="cell" style="left:734.34px;top:324.40px"></div><div class="cell" style="left:751.92px;top:324.40px"></div><div class="cell" style="left:769.50px;top:324.40px"></div>
<div class="a" style="left:647px;top:352.3px;width:139.5px;height:3.2px;border-radius:2px;background:#26282c"></div>
<svg class="a" style="left:506px;top:356.3px" width="13" height="13" viewBox="0 0 13 13"><circle cx="6.5" cy="6.5" r="5.6" fill="none" stroke="#43b51a" stroke-width="1.3"/><path d="M4.6 5 C4.6 3.2 8.4 3.2 8.4 5 C8.4 6.4 6.5 6.3 6.5 7.8" fill="none" stroke="#43b51a" stroke-width="1.2"/><circle cx="6.5" cy="9.6" r="0.75" fill="#43b51a"/></svg>
<div class="a" style="left:522.5px;top:356.5px;font-size:11px;line-height:11px;letter-spacing:-0.05px;color:#8b8e96">Understanding Trend Chart</div>
<svg class="a" style="left:0;top:0" width="1200" height="439" viewBox="0 0 1200 439"><path d="M509.7 120.5 L754.5 232.6 M574.7 124.3 L763.8 262.7" stroke="#000" stroke-width="1.3" fill="none"/></svg>
</body></html>
